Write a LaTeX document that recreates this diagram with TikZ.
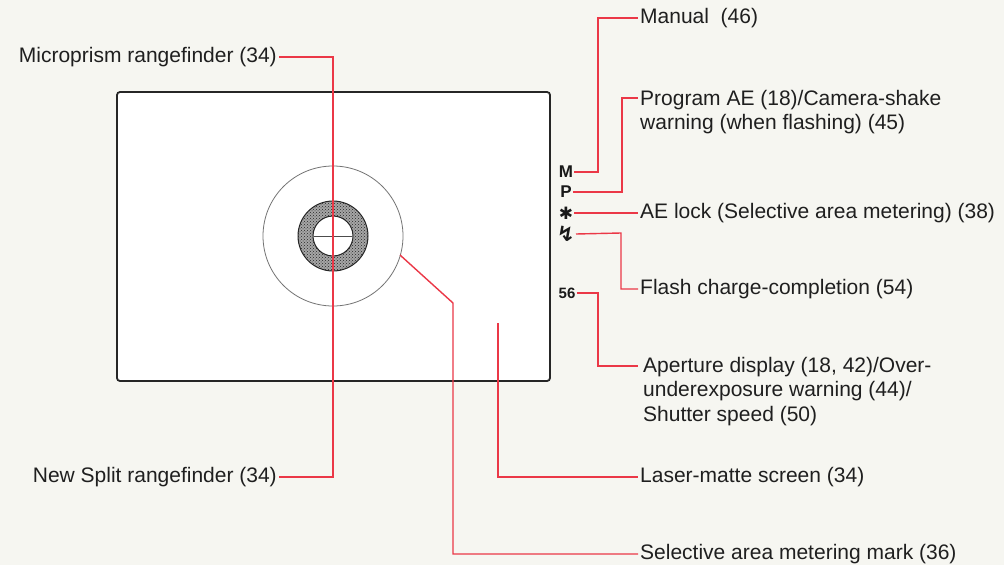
\documentclass[tikz,border=0pt]{standalone}
\usepackage{fontspec}
\setmainfont{Liberation Sans}
\newfontfamily\symfont{DejaVu Sans}
\usetikzlibrary{patterns,calc}
\definecolor{lred}{rgb}{0.92,0.22,0.28}
\definecolor{bgtint}{rgb}{0.965,0.965,0.945}
\begin{document}
\begin{tikzpicture}[x=1pt,y=-1pt,
  lbl/.style={font=\fontsize{21}{24.5}\selectfont, inner sep=2pt, text=black!88},
  sym/.style={font=\bfseries\fontsize{17}{17}\selectfont, inner sep=1pt, text=black!90},
  conn/.style={draw=lred, line width=1.4pt},
  vframe/.style={draw=black!85, line width=1.8pt, rounded corners=3pt}]
\useasboundingbox (0,0) rectangle (1004,565);
\fill[bgtint] (0,0) rectangle (1004,565);
% viewfinder frame
\draw[vframe, fill=white] (117,92) rectangle (550,381);
\coordinate (ctr) at (333,236);
% outer circle
\draw[black!55, line width=0.8pt] (ctr) circle[radius=70];
% microprism ring
\fill[gray!70, even odd rule] (ctr) circle[radius=35] (ctr) circle[radius=20];
\fill[pattern=crosshatch dots, pattern color=black!85, even odd rule] (ctr) circle[radius=35] (ctr) circle[radius=20];
\draw[black!85, line width=1pt] (ctr) circle[radius=35] (ctr) circle[radius=20];
% split line
\draw[black!70, line width=0.9pt] (314,236) -- (352,236);

% left labels
\node[lbl, anchor=east] (micro) at (279,57) {Microprism rangefinder (34)};
\node[lbl, anchor=east] (split) at (279,477) {New Split rangefinder (34)};
\coordinate (mtop) at (333,57);
\coordinate (mbot) at (333,477);
\draw[conn] (micro.east) -- (mtop) -- (mbot) -- (split.east);

% display symbols
\node[sym] (sM) at (566,172) {M};
\node[sym] (sP) at (566,192) {P};
\node[sym] (sA) at (566,213) {\symfont ✱};
\node[sym, font=\bfseries\fontsize{21}{21}\selectfont] (sF) at (566,234) {\symfont ↯};
\node[sym, font=\bfseries\fontsize{15}{15}\selectfont] (s56) at (567,293) {56};

% right labels
\node[lbl, anchor=west] (man) at (638,18) {Manual\ \ (46)};
\node[lbl, anchor=north west, align=left] (prog) at (638,88) {Program AE (18)/Camera-shake\\warning (when flashing) (45)};
\node[lbl, anchor=west] (ael) at (638,213) {AE lock (Selective area metering) (38)};
\node[lbl, anchor=west] (flash) at (638,289) {Flash charge-completion (54)};
\node[lbl, anchor=north west, align=left] (ap) at (641,355) {Aperture display (18, 42)/Over-\\underexposure warning (44)/\\Shutter speed (50)};
\node[lbl, anchor=west] (las) at (638,477) {Laser-matte screen (34)};
\node[lbl, anchor=west] (sel) at (638,554) {Selective area metering mark (36)};

\coordinate (mM) at (598,172);
\coordinate (mP) at (622,192);
\coordinate (mF) at (621,233);
\coordinate (m56) at (598,293);
\draw[conn] (sM.east) -- (mM) |- (man.west);
\draw[conn] (sP.east) -- (mP) |- ($(prog.north west)+(0,10)$);
\draw[conn] (sA.east) -- (sA.east -| ael.west);
\draw[conn] (sF.east) -- (mF) |- (flash.west);
\draw[conn] (s56.east) -- (m56) |- ($(ap.north west)+(-3,11)$);

% screen and metering mark leaders
\coordinate (laspt) at (498,323);
\draw[conn] (laspt) |- (las.west);
\coordinate (selpt) at (400,255);
\coordinate (selbend) at (453,303);
\draw[conn] (selpt) -- (selbend) |- (sel.west);
\end{tikzpicture}
\end{document}
